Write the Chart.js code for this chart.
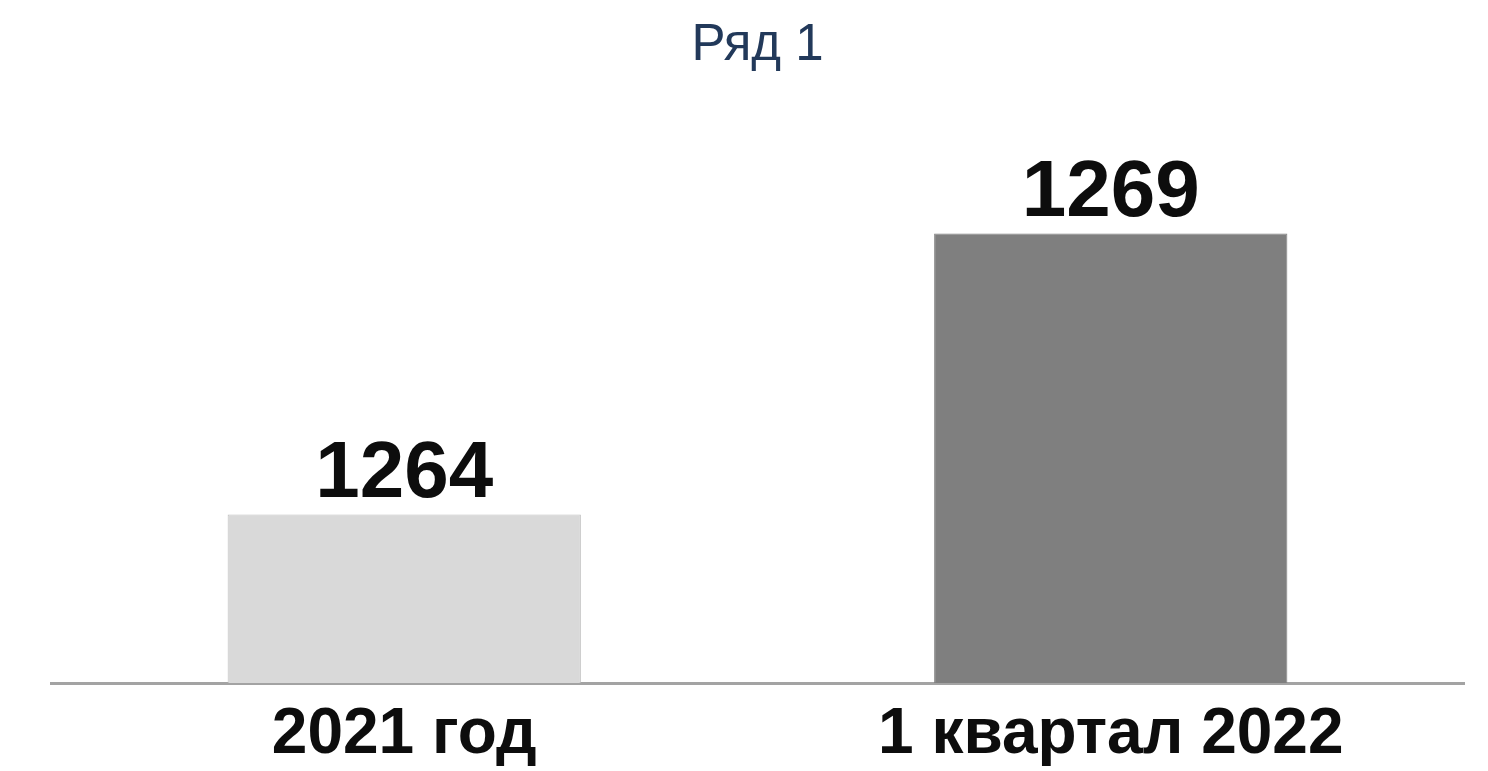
<!DOCTYPE html>
<html>
<head>
<meta charset="utf-8">
<script src="https://cdn.jsdelivr.net/npm/chart.js@4"></script>
<style>
  html, body { margin: 0; padding: 0; background: #ffffff; overflow: hidden; }
  #wrap { width: 1488px; height: 787px; position: relative; }
</style>
</head>
<body>
<div id="wrap"><canvas id="c"></canvas></div>
<script>
const categories = ["2021 год", "1 квартал 2022"];
const seriesName = "Ряд 1";
const seriesValues = [1264, 1269];
const barColors = ["#d9d9d9", "#7f7f7f"];
const barBorders = ["#bfbfbf", "#7f7f7f"];
const yMin = 1261;
const yMax = 1270;

const FONT = '"Liberation Sans", Arial, sans-serif';

const valueLabels = {
  id: 'valueLabels',
  afterDatasetsDraw(chart) {
    const ctx = chart.ctx;
    const meta = chart.getDatasetMeta(0);
    ctx.save();
    ctx.font = 'bold 80px ' + FONT;
    ctx.fillStyle = '#0d0d0d';
    ctx.textAlign = 'center';
    ctx.textBaseline = 'alphabetic';
    meta.data.forEach((bar, i) => {
      ctx.fillText(String(chart.data.datasets[0].data[i]), bar.x, bar.y - 17);
    });
    ctx.restore();
  }
};

new Chart(document.getElementById('c'), {
  type: 'bar',
  data: {
    labels: categories,
    datasets: [{
      label: seriesName,
      data: seriesValues,
      backgroundColor: barColors,
      borderColor: barBorders,
      borderWidth: 1,
      categoryPercentage: 1.0,
      barPercentage: 0.5
    }]
  },
  options: {
    responsive: true,
    maintainAspectRatio: false,
    animation: false,
    devicePixelRatio: 1,
    layout: { padding: { left: 51, right: 24, top: 0, bottom: 0 } },
    plugins: {
      legend: { display: false },
      tooltip: { enabled: false },
      title: {
        display: true,
        text: seriesName,
        color: '#22395a',
        font: { family: FONT, size: 51, weight: 'normal', lineHeight: 1.2 },
        padding: { top: 15, bottom: 101 }
      }
    },
    scales: {
      x: {
        grid: { display: false, drawTicks: false },
        border: { display: true, color: '#a3a3a3', width: 3 },
        ticks: {
          color: '#0d0d0d',
          padding: 13.6,
          maxRotation: 0,
          autoSkip: false,
          font: { family: FONT, size: 64, weight: 'bold', lineHeight: 1.2 }
        }
      },
      y: {
        display: false,
        min: yMin,
        max: yMax
      }
    }
  },
  plugins: [valueLabels]
});
</script>
</body>
</html>
